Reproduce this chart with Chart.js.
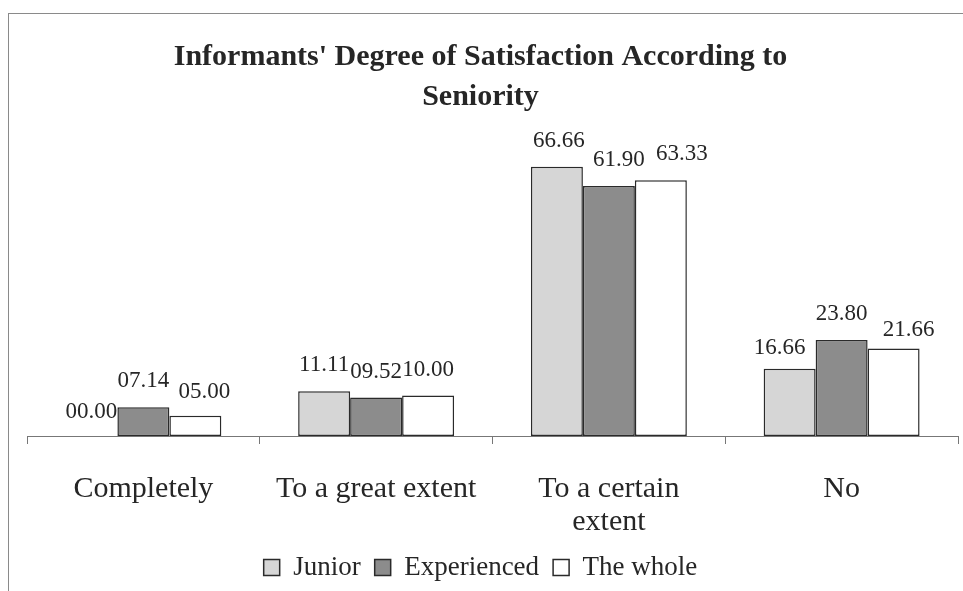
<!DOCTYPE html>
<html>
<head>
<meta charset="utf-8">
<script src="https://cdn.jsdelivr.net/npm/chart.js@4.4.1/dist/chart.umd.min.js"></script>
<style>
html,body{margin:0;padding:0;background:#fff;}
#wrap{position:relative;width:963px;height:591px;}
</style>
</head>
<body>
<div id="wrap"><canvas id="c" width="963" height="591"></canvas></div>
<script>
const categories = ['Completely', 'To a great extent', ['To a certain', 'extent'], 'No'];
const seriesNames = ['Junior', 'Experienced', 'The whole'];
const junior = [0.00, 11.11, 66.66, 16.66];
const experienced = [7.14, 9.52, 61.90, 23.80];
const whole = [5.00, 10.00, 63.33, 21.66];
const titleLines = ["Informants' Degree of Satisfaction According to", 'Seniority'];

const SERIF = "'Liberation Serif', 'Times New Roman', serif";
const INK = '#262626';

function fmt(v) {
  const s = v.toFixed(2);
  return s.length < 5 ? '0' + s : s;
}

// label nudges (style only), per dataset per category
const labelDx = [[0, 0, 2, -10], [0, 0, 10, 0], [9, 0, 21, 15]];
const labelDy = [[2, 0, 0, 5], [0, 0, 0, 0], [2, 0, 0, 7]];

const framePlugin = {
  id: 'frame',
  beforeDraw(chart) {
    const ctx = chart.ctx;
    ctx.save();
    ctx.fillStyle = '#fff';
    ctx.fillRect(0, 0, chart.width, chart.height);
    ctx.strokeStyle = '#8a8a8a';
    ctx.lineWidth = 1;
    ctx.strokeRect(8.5, 13.5, 1200, 1200);
    ctx.restore();
  }
};

const valueLabels = {
  id: 'valueLabels',
  afterDatasetsDraw(chart) {
    const ctx = chart.ctx;
    ctx.save();
    ctx.font = '23px ' + SERIF;
    ctx.fillStyle = INK;
    ctx.textAlign = 'center';
    ctx.textBaseline = 'alphabetic';
    chart.data.datasets.forEach((ds, di) => {
      const meta = chart.getDatasetMeta(di);
      meta.data.forEach((el, i) => {
        const x = el.x + labelDx[di][i];
        const y = el.y - 20 + labelDy[di][i];
        ctx.fillText(fmt(ds.data[i]), x, y);
      });
    });
    ctx.restore();
  }
};

new Chart(document.getElementById('c'), {
  type: 'bar',
  data: {
    labels: categories,
    datasets: [
      { label: seriesNames[0], data: junior, backgroundColor: '#d6d6d6', borderColor: '#2a2a2a', borderWidth: 1.5, borderSkipped: false },
      { label: seriesNames[1], data: experienced, backgroundColor: '#8c8c8c', borderColor: '#2a2a2a', borderWidth: 1.5, borderSkipped: false },
      { label: seriesNames[2], data: whole, backgroundColor: '#ffffff', borderColor: '#2a2a2a', borderWidth: 1.5, borderSkipped: false }
    ]
  },
  options: {
    responsive: false,
    animation: false,
    devicePixelRatio: 1,
    datasets: { bar: { barPercentage: 1.0, categoryPercentage: 0.67 } },
    layout: { padding: { top: 27, left: 3, right: 5, bottom: 0 } },
    scales: {
      x: {
        afterFit: (scale) => { scale.height = 104; },
        grid: { display: true, drawOnChartArea: false, drawTicks: true, tickLength: 8, color: '#777', offset: true },
        border: { display: true, color: '#777', width: 1 },
        ticks: { color: INK, font: { family: SERIF, size: 30, lineHeight: 1.1 }, padding: 29, maxRotation: 0, autoSkip: false }
      },
      y: {
        display: true,
        min: 0,
        max: 79,
        afterFit: (scale) => { scale.width = 24; },
        ticks: { display: false },
        grid: { display: false },
        border: { display: false }
      }
    },
    plugins: {
      title: {
        display: true,
        text: titleLines,
        color: INK,
        font: { family: SERIF, size: 30, weight: 'bold', lineHeight: 1.333 },
        padding: { top: 10, bottom: 0 }
      },
      legend: {
        position: 'bottom',
        maxHeight: 51,
        labels: { color: INK, font: { family: SERIF, size: 27 }, boxWidth: 16, boxHeight: 16, padding: 14 }
      },
      tooltip: { enabled: false }
    }
  },
  plugins: [framePlugin, valueLabels]
});
</script>
</body>
</html>
